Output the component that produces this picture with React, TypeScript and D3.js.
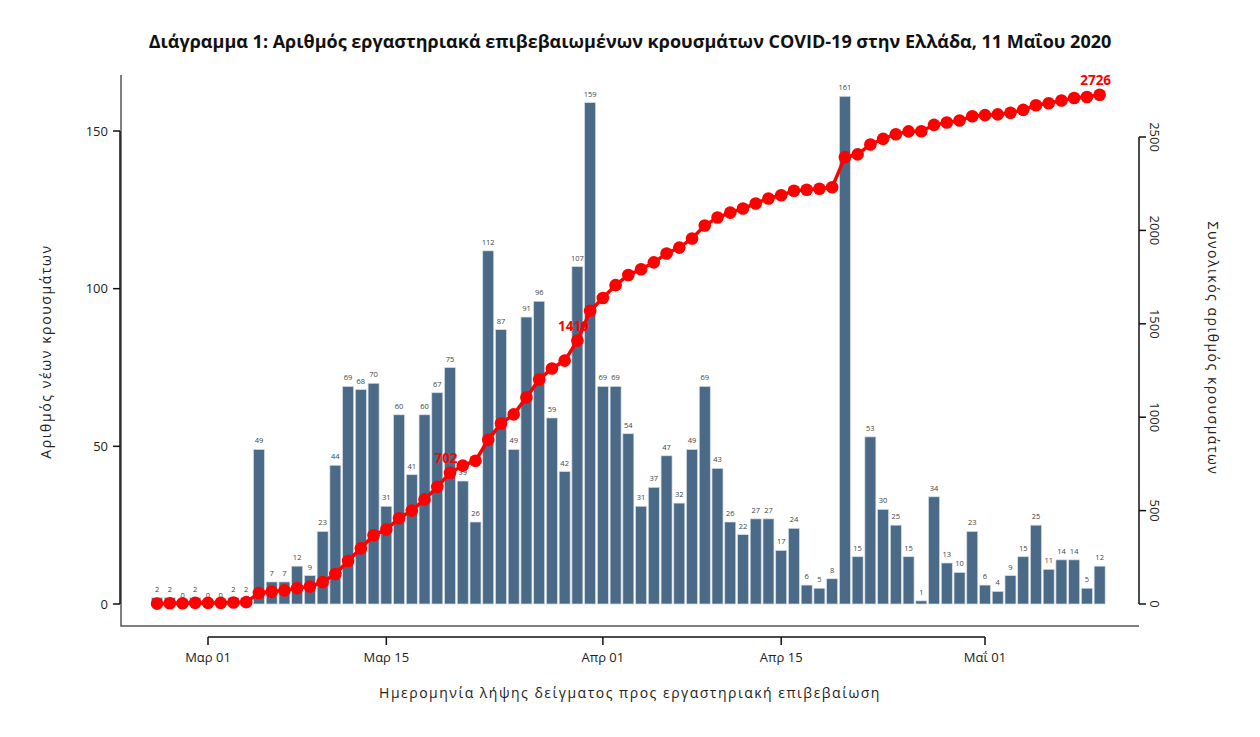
import { useRef, useEffect } from 'react';
import * as d3 from 'd3';

// new lab-confirmed cases per sampling day, 26 Feb 2020 .. 10 May 2020
const newCases = [
  2, 2, 0, 2,
  0, 0, 2, 2, 49, 7, 7, 12, 9, 23, 44, 69, 68, 70, 31, 60, 41, 60, 67, 75, 39, 26, 112, 87, 49, 91, 96, 59, 42, 107, 159,
  69, 69, 54, 31, 37, 47, 32, 49, 69, 43, 26, 22, 27, 27, 17, 24, 6, 5, 8, 161, 15, 53, 30, 25, 15, 1, 34, 13, 10, 23,
  6, 4, 9, 15, 25, 11, 14, 14, 5, 12,
];
const firstDay = new Date(2020, 1, 26);
const lastDay = new Date(2020, 4, 10);

const xTickDates = [new Date(2020, 2, 1), new Date(2020, 2, 15), new Date(2020, 3, 1), new Date(2020, 3, 15), new Date(2020, 4, 1)];
const xTickLabels = ['Μαρ 01', 'Μαρ 15', 'Απρ 01', 'Απρ 15', 'Μαΐ 01'];
const leftTicks = [0, 50, 100, 150];
const rightTicks = [0, 500, 1000, 1500, 2000, 2500];
const annotatedDays = [new Date(2020, 2, 20), new Date(2020, 2, 30), new Date(2020, 4, 10)];

const title = 'Διάγραμμα 1: Αριθμός εργαστηριακά επιβεβαιωμένων κρουσμάτων COVID-19 στην Ελλάδα, 11 Μαΐου 2020';
const xTitle = 'Ημερομηνία λήψης δείγματος προς εργαστηριακή επιβεβαίωση';
const leftTitle = 'Αριθμός νέων κρουσμάτων';
const rightTitle = 'Συνολικός αριθμός κρουσμάτων';

const W = 1260;
const H = 737;
const FONT = "'Open Sans', 'Noto Sans', sans-serif";

const App = () => {
  const svgRef = useRef(null);

  useEffect(() => {
    if (!svgRef.current) return;
    const svg = d3.select(svgRef.current);
    svg.selectAll('*').remove();

    const days = d3.timeDay.range(firstDay, d3.timeDay.offset(lastDay, 1));
    const cumulative = Array.from(d3.cumsum(newCases));
    const data = days.map((d, i) => ({ date: d, value: newCases[i], total: cumulative[i] }));

    const x = d3.scaleTime()
      .domain([new Date(2020, 2, 1), new Date(2020, 4, 1)])
      .range([208, 985]);
    const y = d3.scaleLinear().domain([0, 150]).range([604, 131]);
    const yCum = d3.scaleLinear().domain([0, 2500]).range([604, 137]);

    const barW = 11;

    // title
    svg.append('text')
      .attr('x', 630).attr('y', 48)
      .attr('text-anchor', 'middle')
      .attr('font-family', FONT)
      .attr('font-weight', 700)
      .attr('font-size', 18)
      .attr('fill', '#111')
      .text(title);

    // frame (left + bottom)
    svg.append('path')
      .attr('d', 'M121,75V626H1139')
      .attr('fill', 'none')
      .attr('stroke', '#555')
      .attr('stroke-width', 1.5);

    // bars
    svg.append('g').selectAll('rect')
      .data(data)
      .enter()
      .append('rect')
      .attr('x', d => x(d.date) - barW / 2)
      .attr('y', d => y(d.value))
      .attr('width', barW)
      .attr('height', d => y(0) - y(d.value))
      .attr('fill', '#4a6a88')
      .attr('stroke', '#d5dde5')
      .attr('stroke-width', 0.7);

    // bar value labels
    svg.append('g').selectAll('text')
      .data(data)
      .enter()
      .append('text')
      .attr('x', d => x(d.date))
      .attr('y', d => y(d.value) - 6)
      .attr('text-anchor', 'middle')
      .attr('font-family', FONT)
      .attr('font-size', 7.5)
      .attr('fill', '#444')
      .text(d => d.value);

    // cumulative line
    const line = d3.line()
      .x(d => x(d.date))
      .y(d => yCum(d.total));

    svg.append('path')
      .datum(data)
      .attr('fill', 'none')
      .attr('stroke', '#ff0000')
      .attr('stroke-width', 3.5)
      .attr('d', line);

    svg.append('g').selectAll('circle')
      .data(data)
      .enter()
      .append('circle')
      .attr('cx', d => x(d.date))
      .attr('cy', d => yCum(d.total))
      .attr('r', 6.3)
      .attr('fill', '#ff0000');

    svg.append('g').selectAll('text')
      .data(data.filter(d => annotatedDays.some(a => +a === +d.date)))
      .enter()
      .append('text')
      .attr('x', d => x(d.date) - 4)
      .attr('y', d => yCum(d.total) - 10)
      .attr('text-anchor', 'middle')
      .attr('font-family', FONT)
      .attr('font-weight', 700)
      .attr('font-size', 13.5)
      .attr('fill', '#ff0000')
      .text(d => d.total);

    // left axis
    const left = svg.append('g').attr('transform', 'translate(120,0)');
    left.append('line')
      .attr('y1', y(0)).attr('y2', y(150))
      .attr('stroke', '#111').attr('stroke-width', 1.5);
    const lt = left.selectAll('.lt').data(leftTicks).enter().append('g')
      .attr('transform', d => `translate(0,${y(d)})`);
    lt.append('line').attr('x1', -7).attr('x2', 0).attr('stroke', '#111').attr('stroke-width', 1.5);
    lt.append('text')
      .attr('x', -12).attr('dy', '0.35em')
      .attr('text-anchor', 'end')
      .attr('font-family', FONT).attr('font-size', 13).attr('fill', '#222')
      .text(d => d);

    svg.append('text')
      .attr('transform', `translate(51,${(y(0) + y(150)) / 2 - 16}) rotate(-90)`)
      .attr('text-anchor', 'middle')
      .attr('font-family', FONT).attr('font-size', 14).attr('letter-spacing', 1.6).attr('fill', '#222')
      .text(leftTitle);

    // right axis
    const right = svg.append('g').attr('transform', 'translate(1139,0)');
    right.append('line')
      .attr('y1', yCum(0)).attr('y2', yCum(2500))
      .attr('stroke', '#111').attr('stroke-width', 1.5);
    const rt = right.selectAll('.rt').data(rightTicks).enter().append('g')
      .attr('transform', d => `translate(0,${yCum(d)})`);
    rt.append('line').attr('x1', 0).attr('x2', 7).attr('stroke', '#111').attr('stroke-width', 1.5);
    rt.append('text')
      .attr('transform', 'translate(16,0) rotate(90)')
      .attr('text-anchor', 'middle')
      .attr('dy', '0.35em')
      .attr('font-family', FONT).attr('font-size', 13).attr('fill', '#222')
      .text(d => d);

    svg.append('text')
      .attr('transform', `translate(1213,${(yCum(0) + yCum(2500)) / 2 - 22}) rotate(90)`)
      .attr('text-anchor', 'middle')
      .attr('dy', '0.35em')
      .attr('font-family', FONT).attr('font-size', 14).attr('letter-spacing', 1.5).attr('fill', '#222')
      .text(rightTitle);

    // bottom axis
    const bottom = svg.append('g').attr('transform', 'translate(0,637)');
    bottom.append('line')
      .attr('x1', x(xTickDates[0])).attr('x2', x(xTickDates[xTickDates.length - 1]))
      .attr('stroke', '#111').attr('stroke-width', 1.5);
    const bt = bottom.selectAll('.bt').data(xTickDates).enter().append('g')
      .attr('transform', d => `translate(${x(d)},0)`);
    bt.append('line').attr('y1', 0).attr('y2', 8).attr('stroke', '#111').attr('stroke-width', 1.5);
    bt.append('text')
      .attr('y', 25)
      .attr('text-anchor', 'middle')
      .attr('font-family', FONT).attr('font-size', 13).attr('fill', '#222')
      .text((d, i) => xTickLabels[i]);

    svg.append('text')
      .attr('x', 630).attr('y', 698)
      .attr('text-anchor', 'middle')
      .attr('font-family', FONT).attr('font-size', 14).attr('letter-spacing', 1.5).attr('fill', '#222')
      .text(xTitle);
  }, []);

  return (
    <div style={{ position: 'absolute', left: 0, top: 0, background: '#fff' }}>
      <svg ref={svgRef} width={W} height={H} style={{ display: 'block' }} />
    </div>
  );
};

export default App;
